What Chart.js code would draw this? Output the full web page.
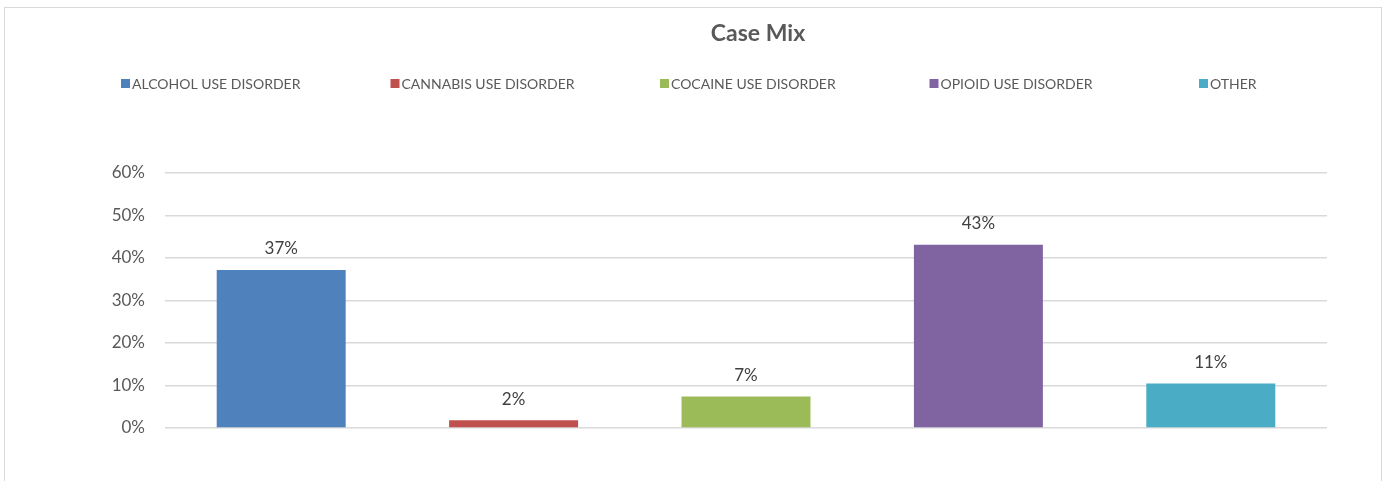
<!DOCTYPE html>
<html>
<head>
<meta charset="utf-8">
<script src="https://cdn.jsdelivr.net/npm/chart.js@4.4.1/dist/chart.umd.min.js"></script>
<style>
  html, body { margin: 0; padding: 0; background: #fff; overflow: hidden; }
  #frame { position: absolute; left: 4px; top: 7px; width: 1378px; height: 500px; border: 1px solid #d9d9d9; box-sizing: border-box; }
  #wrap { position: absolute; left: 0; top: 0; width: 1388px; height: 481px; }
</style>
</head>
<body>
<div id="frame"></div>
<div id="wrap"><canvas id="c" width="1388" height="481"></canvas></div>
<script>
const title = "Case Mix";
const categories = ["ALCOHOL USE DISORDER", "CANNABIS USE DISORDER", "COCAINE USE DISORDER", "OPIOID USE DISORDER", "OTHER"];
const values = [37.2, 1.8, 7.4, 43.1, 10.5];
const colors = ["#4F81BD", "#C0504D", "#9BBB59", "#8064A2", "#4BACC6"];
const yTicks = [0, 10, 20, 30, 40, 50, 60];

const FONT = "Lato, 'Open Sans', sans-serif";

const headerPlugin = {
  id: 'header',
  afterDraw(chart) {
    const ctx = chart.ctx;
    ctx.save();
    // title
    ctx.fillStyle = '#595959';
    ctx.font = "bold 23px " + FONT;
    ctx.textAlign = 'center';
    ctx.textBaseline = 'middle';
    ctx.fillText(title, 758, 34);
    // legend
    ctx.font = "14px " + FONT;
    ctx.textAlign = 'left';
    const startX = 121, pitch = 269.5, y = 83.5;
    categories.forEach((c, i) => {
      const x = startX + i * pitch;
      ctx.fillStyle = colors[i];
      ctx.fillRect(x, y - 4.5, 9, 9);
      ctx.fillStyle = '#595959';
      ctx.fillText(c, x + 11, y + 1);
    });
    // data labels
    const meta = chart.getDatasetMeta(0);
    ctx.font = "17px " + FONT;
    ctx.fillStyle = '#404040';
    ctx.textAlign = 'center';
    ctx.textBaseline = 'alphabetic';
    meta.data.forEach((bar, i) => {
      ctx.fillText(Math.round(values[i]) + '%', bar.x, bar.y - 15.5);
    });
    ctx.restore();
  }
};

new Chart(document.getElementById('c'), {
  type: 'bar',
  data: {
    labels: categories,
    datasets: [{
      data: values,
      backgroundColor: colors,
      borderWidth: 0,
      categoryPercentage: 1.0,
      barPercentage: 0.555
    }]
  },
  options: {
    responsive: false,
    animation: false,
    layout: { padding: { top: 173, bottom: 53, right: 61, left: 0 } },
    plugins: {
      legend: { display: false },
      title: { display: false },
      tooltip: { enabled: false }
    },
    scales: {
      x: { display: false },
      y: {
        min: 0, max: 60,
        afterFit(scale) { scale.width = 165; },
        afterBuildTicks(scale) { scale.ticks = yTicks.map(v => ({ value: v })); },
        border: { display: false },
        grid: { color: '#d9d9d9', lineWidth: 1.5, drawTicks: false },
        ticks: {
          padding: 20,
          color: '#595959',
          font: { family: FONT, size: 17 },
          callback: v => v + '%'
        }
      }
    }
  },
  plugins: [headerPlugin]
});
</script>
</body>
</html>
